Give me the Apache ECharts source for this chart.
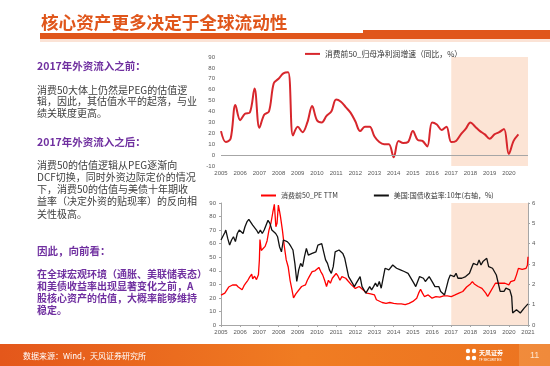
<!DOCTYPE html>
<html><head><meta charset="utf-8">
<script src="https://cdn.jsdelivr.net/npm/echarts@6/dist/echarts.min.js"></script>
<style>html,body{margin:0;padding:0;background:#fff}#c{width:550px;height:366px}</style>
</head><body><div id="c"></div>
<script>
const FONT = '"Noto Sans CJK SC","Noto Sans",sans-serif';

// ---- data ----
const titleText = '核心资产更多决定于全球流动性';
const sourceText = '数据来源：Wind，天风证券研究所';
const profitLegend = '消费前50_归母净利润增速（同比，%）';
const peLegend = '消费前50_PE TTM';
const ustLegend = '美国:国债收益率:10年(右轴，%)';
const shadeStart = 2017, shadeEnd = 2021;

// quarterly profit growth (%)
const profitTimes = [2005.00,2005.25,2005.50,2005.75,2006.00,2006.25,2006.50,2006.75,2007.00,2007.25,2007.50,2007.75,
  2008.00,2008.25,2008.50,2008.75,2009.00,2009.25,2009.50,2009.75,2010.00,2010.25,2010.50,2010.75,
  2011.00,2011.25,2011.50,2011.75,2012.00,2012.25,2012.50,2012.75,2013.00,2013.25,2013.50,2013.75,
  2014.00,2014.25,2014.50,2014.75,2015.00,2015.25,2015.50,2015.75,2016.00,2016.25,2016.50,2016.75,
  2017.00,2017.25,2017.50,2017.75,2018.00,2018.25,2018.50,2018.75,2019.00,2019.25,2019.50,2019.75,
  2020.00,2020.25,2020.50];
const profitGrowth = [22,12,15,46,32,38,39,61,25,37,40,66,
  70,75,76,18,26,21,30,45,32,30,36,40,
  51,49,44,39,31,22,26,26,17,12,10,10,
  -2,13,11,12,22,14,13,8,30,28,23,26,
  12,13,19,24,30,26,22,19,15,19,21,24,
  1,13,19];

// PE TTM [year, value]
const peSeries = [[2005.0,22],[2005.1,23],[2005.2,23.5],[2005.3,24],[2005.4,28],[2005.5,28.5],[2005.6,29.5],[2005.7,30.8],[2005.8,29.5],[2005.9,28],
  [2006.0,27],[2006.1,26],[2006.2,29],[2006.3,31],[2006.4,33],[2006.5,35.5],[2006.6,37.6],[2006.65,34],[2006.75,36],[2006.85,33.5],[2006.95,37],
  [2007.0,48],[2007.03,63],[2007.1,55],[2007.2,56],[2007.3,58],[2007.4,62],[2007.5,70],[2007.6,75],[2007.7,83],[2007.78,89],[2007.86,72.5],[2007.92,75],[2007.99,88.5],
  [2008.05,84],[2008.1,80],[2008.2,70],[2008.3,58],[2008.4,48],[2008.5,43],[2008.6,33],[2008.7,26],[2008.78,20],[2008.9,23],
  [2009.0,23.5],[2009.2,28.4],[2009.4,29.6],[2009.5,33],[2009.6,35.7],[2009.75,39.4],[2009.9,40],
  [2010.0,40.6],[2010.1,42.5],[2010.2,39.4],[2010.3,37],[2010.4,33],[2010.5,28.4],[2010.6,33],[2010.7,30.8],[2010.8,34.5],[2010.9,35.7],
  [2011.0,38],[2011.1,36],[2011.2,33],[2011.3,35.7],[2011.4,36],[2011.5,34.5],[2011.6,32.8],[2011.7,33],[2011.8,29.6],[2011.9,30.8],
  [2012.0,27],[2012.2,28.4],[2012.4,26],[2012.6,23.5],[2012.8,23],
  [2013.0,22.2],[2013.1,18.6],[2013.2,17.4],[2013.4,16.6],[2013.6,16],[2013.8,16.6],
  [2014.0,16],[2014.2,15.6],[2014.4,15.6],[2014.6,15],[2014.8,16],
  [2015.0,17.4],[2015.2,19.8],[2015.3,23.5],[2015.4,26.4],[2015.5,23.5],[2015.6,21],[2015.7,19.8],[2015.8,22.2],
  [2016.0,19.8],[2016.2,21],[2016.4,20.5],[2016.6,21.5],[2016.8,21.5],
  [2017.0,21],[2017.2,22.2],[2017.4,23.5],[2017.6,24.7],[2017.8,28],
  [2018.0,30.3],[2018.1,32],[2018.2,30.3],[2018.4,28.4],[2018.6,27],[2018.8,23.5],[2018.9,21],
  [2019.0,23.5],[2019.2,28.4],[2019.3,30.8],[2019.4,29.6],[2019.6,30.8],[2019.8,30.8],
  [2020.0,29.6],[2020.1,32],[2020.2,30.8],[2020.3,33],[2020.4,37],[2020.5,41.8],[2020.6,40.6],[2020.7,41],[2020.8,41.8],[2020.9,41.8],[2020.97,44],[2021.0,50.4]];

// US 10Y yield (%) [year, value]
const ustSeries = [[2005.0,4.18],[2005.1,4.1],[2005.2,4.55],[2005.25,4.67],[2005.35,4.26],[2005.45,3.93],[2005.55,4.18],[2005.65,4.34],[2005.75,4.1],[2005.85,4.5],[2005.95,4.67],
  [2006.05,4.58],[2006.15,4.5],[2006.25,4.83],[2006.35,5.07],[2006.45,5.19],[2006.55,5.15],[2006.65,4.91],[2006.75,4.83],[2006.85,4.67],[2006.95,4.5],
  [2007.05,4.67],[2007.15,4.5],[2007.25,4.67],[2007.35,4.7],[2007.45,5.15],[2007.55,5.0],[2007.65,4.67],[2007.75,4.75],[2007.85,4.5],[2007.95,4.34],
  [2008.05,3.85],[2008.15,3.6],[2008.25,4.18],[2008.35,4.26],[2008.45,4.1],[2008.55,4.0],[2008.65,3.85],[2008.75,3.69],[2008.85,3.03],[2008.95,2.14],
  [2009.05,2.71],[2009.15,3.03],[2009.25,2.87],[2009.35,3.36],[2009.45,3.77],[2009.55,3.44],[2009.65,3.52],[2009.75,3.52],[2009.85,3.6],[2009.95,3.6],
  [2010.05,3.93],[2010.15,3.85],[2010.25,4.0],[2010.35,3.6],[2010.45,3.2],[2010.55,3.03],[2010.65,2.71],[2010.75,2.54],[2010.85,2.87],[2010.95,3.6],
  [2011.05,3.52],[2011.15,3.69],[2011.25,3.6],[2011.35,3.52],[2011.45,3.28],[2011.55,3.2],[2011.65,2.38],[2011.75,2.22],[2011.85,2.06],[2011.95,1.89],
  [2012.05,2.06],[2012.15,2.22],[2012.25,2.38],[2012.35,1.89],[2012.45,1.73],[2012.55,1.57],[2012.65,1.73],[2012.75,1.89],[2012.85,1.73],[2012.95,1.89],
  [2013.05,2.06],[2013.15,1.89],[2013.25,2.14],[2013.35,1.81],[2013.45,2.3],[2013.55,2.79],[2013.65,2.87],[2013.75,2.71],[2013.85,2.79],[2013.95,2.95],
  [2014.05,3.03],[2014.15,2.79],[2014.25,2.87],[2014.35,2.71],[2014.45,2.79],[2014.55,2.63],[2014.65,2.63],[2014.75,2.54],[2014.85,2.46],[2014.95,2.22],
  [2015.05,2.06],[2015.15,1.89],[2015.25,2.14],[2015.35,2.38],[2015.45,2.46],[2015.55,2.3],[2015.65,2.14],[2015.75,2.22],[2015.85,2.38],[2015.95,2.22],
  [2016.05,2.06],[2016.15,1.89],[2016.25,1.97],[2016.35,1.89],[2016.45,1.65],[2016.55,1.57],[2016.65,1.48],[2016.75,1.57],[2016.85,2.22],[2016.95,2.46],
  [2017.05,2.46],[2017.15,2.38],[2017.25,2.54],[2017.35,2.3],[2017.45,2.22],[2017.55,2.3],[2017.65,2.22],[2017.75,2.38],[2017.85,2.46],[2017.95,2.54],
  [2018.05,2.79],[2018.15,3.03],[2018.25,2.95],[2018.35,2.95],[2018.45,3.2],[2018.55,2.95],[2018.65,3.12],[2018.75,3.2],[2018.85,3.28],[2018.95,2.87],
  [2019.05,2.79],[2019.15,2.79],[2019.25,2.71],[2019.35,2.46],[2019.45,2.38],[2019.55,1.65],[2019.65,1.73],[2019.75,1.65],[2019.85,1.81],[2019.95,1.89],
  [2020.05,1.73],[2020.15,1.4],[2020.2,0.59],[2020.3,0.67],[2020.4,0.75],[2020.5,0.67],[2020.6,0.59],[2020.7,0.67],[2020.8,0.83],[2020.9,0.91],[2021.0,1.04]];

// left column text
const head1 = '2017年外资流入之前：';
const para1 = ['消费50大体上仍然是PEG的估值逻','辑，因此，其估值水平的起落，与业','绩关联度更高。'];
const head2 = '2017年外资流入之后：';
const para2 = ['消费50的估值逻辑从PEG逐渐向','DCF切换，同时外资边际定价的情况','下，消费50的估值与美债十年期收','益率（决定外资的贴现率）的反向相','关性极高。'];
const head3 = '因此，向前看：';
const para3 = ['在全球宏观环境（通胀、美联储表态）','和美债收益率出现显著变化之前，A','股核心资产的估值，大概率能够维持','稳定。'];

// ---- chart ----
const chart = echarts.init(document.getElementById('c'), null, {renderer:'canvas'});
const PURPLE = '#7030A0', ORANGE = '#E0561B', GRAY = '#404040';
const tickLabel = {fontSize:6, color:'#595959', fontFamily:'Arial, "Liberation Sans", sans-serif'};
const shade = {silent:true, itemStyle:{color:'#FCE4D5'}, data:[[{xAxis:shadeStart},{xAxis:shadeEnd}]]};

function textEl(txt, x, y, size, color, weight, lh){
  return {type:'text', x:x, y:y, silent:true, style:{text:txt, fontSize:size, fontFamily:FONT, fontWeight:weight||'normal', fill:color, lineHeight:lh||size*1.2, verticalAlign:'top'}};
}

const option = {
  animation:false,
  backgroundColor:'#fff',
  legend:[
    {data:[profitLegend], left:300, top:45, icon:'rect', itemWidth:15, itemHeight:2, itemGap:10,
     textStyle:{fontSize:7.8, color:'#333', fontFamily:FONT}},
    {data:[peLegend, ustLegend], left:256, top:187, icon:'rect', itemWidth:15, itemHeight:2, itemGap:36,
     textStyle:{fontSize:7, color:'#333', fontFamily:FONT}}
  ],
  grid:[
    {left:221, top:57, width:307, height:109},
    {left:221, top:203, width:307, height:122}
  ],
  xAxis:[
    {type:'value', gridIndex:0, min:2005, max:2021, interval:1,
     axisLine:{show:false}, axisTick:{show:false}, splitLine:{show:false},
     axisLabel:Object.assign({margin:4, formatter:v=> v===2021?'':String(v)}, tickLabel)},
    {type:'value', gridIndex:1, min:2005, max:2021, interval:1,
     axisLine:{onZero:false, lineStyle:{color:'#A6A6A6'}}, axisTick:{length:2, lineStyle:{color:'#A6A6A6'}}, splitLine:{show:false},
     axisLabel:Object.assign({margin:4, formatter:v=>String(v)}, tickLabel)}
  ],
  yAxis:[
    {type:'value', gridIndex:0, min:-10, max:90, interval:10,
     axisLine:{show:false}, axisTick:{show:false}, splitLine:{show:false},
     axisLabel:Object.assign({margin:6}, tickLabel)},
    {type:'value', gridIndex:1, min:0, max:90, interval:10,
     axisLine:{show:true, lineStyle:{color:'#A6A6A6'}}, axisTick:{show:true, length:2, lineStyle:{color:'#A6A6A6'}}, splitLine:{show:false},
     axisLabel:Object.assign({margin:5}, tickLabel)},
    {type:'value', gridIndex:1, position:'right', min:0, max:6, interval:1,
     axisLine:{show:true, lineStyle:{color:'#A6A6A6'}}, axisTick:{show:true, length:2, lineStyle:{color:'#A6A6A6'}}, splitLine:{show:false},
     axisLabel:Object.assign({margin:4}, tickLabel)}
  ],
  series:[
    {type:'line', xAxisIndex:0, yAxisIndex:0, data:[], z:1, markArea:shade},
    {type:'line', xAxisIndex:1, yAxisIndex:1, data:[], z:1, markArea:shade},
    {name:profitLegend, type:'line', xAxisIndex:0, yAxisIndex:0, z:3,
     data:profitTimes.map((t,i)=>[t, profitGrowth[i]]),
     smooth:0.35, showSymbol:false, lineStyle:{color:'#D7262C', width:2}, itemStyle:{color:'#D7262C'},
     markLine:{silent:true, symbol:'none', label:{show:false}, lineStyle:{color:'#A6A6A6', width:1, type:'solid'}, data:[{yAxis:0}]}},
    {name:peLegend, type:'line', xAxisIndex:1, yAxisIndex:1, z:3, data:peSeries,
     showSymbol:false, lineStyle:{color:'#FF0000', width:1.3}, itemStyle:{color:'#FF0000'}},
    {name:ustLegend, type:'line', xAxisIndex:1, yAxisIndex:2, z:3, data:ustSeries,
     showSymbol:false, lineStyle:{color:'#111', width:1.3}, itemStyle:{color:'#111'}}
  ],
  graphic:[
    // title
    {type:'text', x:41, y:22, silent:true, style:{text:titleText, fontSize:17.6, fontWeight:'bold', fontFamily:FONT, fill:ORANGE, verticalAlign:'middle'}},
    {type:'rect', silent:true, shape:{x:40, y:39, width:510, height:3}, style:{fill:'#FBE3D6'}},
    {type:'rect', silent:true, shape:{x:40, y:33, width:325, height:6}, style:{fill:ORANGE}},
    {type:'rect', silent:true, shape:{x:363, y:30, width:187, height:9}, style:{fill:ORANGE}},
    // left column
    textEl(head1, 37, 60, 10.5, PURPLE, 'bold'),
    textEl(para1.join('\n'), 37, 84, 10, GRAY, 'normal', 11.7),
    textEl(head2, 37, 136, 10.5, PURPLE, 'bold'),
    textEl(para2.join('\n'), 37, 159, 10, GRAY, 'normal', 12.2),
    textEl(head3, 37, 245, 10.5, PURPLE, 'bold'),
    textEl(para3.join('\n'), 37, 268, 10, PURPLE, 'bold', 12),
    // footer
    {type:'rect', silent:true, shape:{x:0, y:344, width:550, height:22},
     style:{fill:new echarts.graphic.LinearGradient(0,0,1,0,[{offset:0,color:'#E4571B'},{offset:0.55,color:'#F07C22'},{offset:1,color:'#EC7421'}])}},
    {type:'rect', silent:true, shape:{x:519, y:344, width:31, height:22}, style:{fill:'#F39A4C', opacity:0.6}},
    {type:'text', x:23, y:356, silent:true, style:{text:sourceText, fontSize:8, fontFamily:FONT, fill:'#fff', verticalAlign:'middle'}},
    {type:'circle', silent:true, shape:{cx:468, cy:351, r:2.2}, style:{fill:'#fff'}},
    {type:'circle', silent:true, shape:{cx:474, cy:351, r:2.2}, style:{fill:'#fff'}},
    {type:'circle', silent:true, shape:{cx:468, cy:358, r:2.2}, style:{fill:'#fff'}},
    {type:'circle', silent:true, shape:{cx:474, cy:358, r:2.2}, style:{fill:'#fff'}},
    {type:'text', x:479, y:353, silent:true, style:{text:'天风证券', fontSize:6, fontWeight:'bold', fontFamily:FONT, fill:'#fff', verticalAlign:'middle'}},
    {type:'text', x:479, y:360, silent:true, style:{text:'TF SECURITIES', fontSize:3, fontFamily:'Arial, sans-serif', fill:'#fff', verticalAlign:'middle'}},
    {type:'text', x:530, y:356, silent:true, style:{text:'11', fontSize:9, fontFamily:'Arial, sans-serif', fill:'#FDE3CC', verticalAlign:'middle'}}
  ]
};
chart.setOption(option);
</script>
</body></html>
